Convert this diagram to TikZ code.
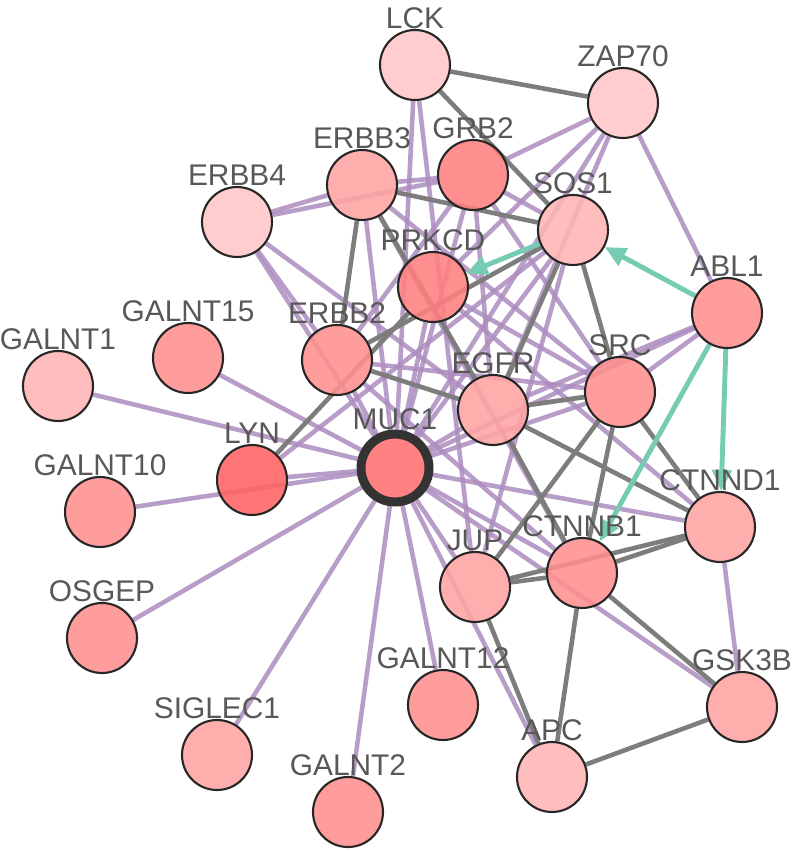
\documentclass[tikz,border=0pt]{standalone}
\usepackage{fontspec}
\setmainfont{Liberation Sans}
\usetikzlibrary{arrows.meta,backgrounds}
\definecolor{pedge}{RGB}{172,140,190}
\definecolor{gedge}{RGB}{125,125,125}
\definecolor{tedge}{RGB}{118,204,178}
\definecolor{lblgray}{RGB}{88,88,88}
\definecolor{shA}{RGB}{255,198,198}
\definecolor{shB}{RGB}{255,180,180}
\definecolor{shC}{RGB}{255,163,163}
\definecolor{shD}{RGB}{255,143,143}
\definecolor{shE}{RGB}{255,128,128}
\definecolor{shF}{RGB}{255,112,112}
\definecolor{shG}{RGB}{255,98,98}

\begin{document}
\begin{tikzpicture}[x=0.02cm,y=-0.02cm,
  gene/.style={circle,draw=black!85,line width=1.2pt,minimum size=1.4cm,inner sep=0pt,
    fill=#1,fill opacity=0.88,label distance=0.1cm},
  glbl/.style={anchor=base,text=lblgray,fill opacity=1,text opacity=1,
    font=\fontsize{17}{17}\selectfont},
  pe/.style={draw=pedge,line width=2.6pt,draw opacity=0.85},
  ge/.style={draw=gedge,line width=2.6pt},
  te/.style={draw=tedge,line width=2.8pt,-{Triangle[length=0.42cm,width=0.38cm]}}
]
\useasboundingbox (0,0) rectangle (792,852);

% genes
\node[gene=shA,label={[glbl]90:LCK}] (LCK) at (415,65) {};
\node[gene=shA,label={[glbl]90:ZAP70}] (ZAP70) at (623,103) {};
\node[gene=shC,label={[glbl]90:ERBB3}] (ERBB3) at (362,185) {};
\node[gene=shE,label={[glbl]90:GRB2}] (GRB2) at (473,175) {};
\node[gene=shA,label={[glbl]90:ERBB4}] (ERBB4) at (237,222) {};
\node[gene=shB,label={[glbl]90:SOS1}] (SOS1) at (573,230) {};
\node[gene=shE,label={[glbl]90:PRKCD}] (PRKCD) at (433,287) {};
\node[gene=shD,label={[glbl]90:GALNT15}] (GALNT15) at (188,358) {};
\node[gene=shB,label={[glbl]90:GALNT1}] (GALNT1) at (58,386) {};
\node[gene=shD,label={[glbl]90:ERBB2}] (ERBB2) at (337,360) {};
\node[gene=shC,label={[glbl]90:EGFR}] (EGFR) at (493,410) {};
\node[gene=shD,label={[glbl]90:SRC}] (SRC) at (620,392) {};
\node[gene=shD,label={[glbl]90:ABL1}] (ABL1) at (727,313) {};
\node[gene=shG,label={[glbl]90:LYN}] (LYN) at (252,480) {};
\node[gene=shD,label={[glbl]90:GALNT10}] (GALNT10) at (100,512) {};
\node[gene=shC,label={[glbl]90:CTNND1}] (CTNND1) at (720,527) {};
\node[gene=shC,label={[glbl]90:JUP}] (JUP) at (475,587) {};
\node[gene=shD,label={[glbl]90:CTNNB1}] (CTNNB1) at (582,573) {};
\node[gene=shD,label={[glbl]90:OSGEP}] (OSGEP) at (102,638) {};
\node[gene=shD,label={[glbl]90:GALNT12}] (GALNT12) at (443,705) {};
\node[gene=shC,label={[glbl]90:GSK3B}] (GSK3B) at (742,707) {};
\node[gene=shC,label={[glbl]90:SIGLEC1}] (SIGLEC1) at (217,755) {};
\node[gene=shB,label={[glbl]90:APC}] (APC) at (552,777) {};
\node[gene=shD,label={[glbl]90:GALNT2}] (GALNT2) at (348,812) {};
% query gene
\node[gene=shF,draw=black!80,line width=0.18cm,minimum size=1.36cm,
  label={[glbl]90:MUC1}] (MUC1) at (395,468) {};

\begin{scope}[on background layer]
% purple links
\draw[pe] (MUC1) -- (LCK);
\draw[pe] (MUC1) -- (ZAP70);
\draw[pe] (MUC1) -- (ERBB3);
\draw[pe] (MUC1) -- (GRB2);
\draw[pe] (MUC1) -- (ERBB4);
\draw[pe] (MUC1) -- (SOS1);
\draw[pe] (MUC1) -- (PRKCD);
\draw[pe] (MUC1) -- (GALNT15);
\draw[pe] (MUC1) -- (ERBB2);
\draw[pe] (MUC1) -- (GALNT1);
\draw[pe] (MUC1) -- (EGFR);
\draw[pe] (MUC1) -- (SRC);
\draw[pe] (MUC1) -- (ABL1);
\draw[pe] (MUC1) -- (LYN);
\draw[pe] (MUC1) -- (GALNT10);
\draw[pe] (MUC1) -- (CTNND1);
\draw[pe] (MUC1) -- (JUP);
\draw[pe] (MUC1) -- (CTNNB1);
\draw[pe] (MUC1) -- (OSGEP);
\draw[pe] (MUC1) -- (GALNT12);
\draw[pe] (MUC1) -- (GSK3B);
\draw[pe] (MUC1) -- (SIGLEC1);
\draw[pe] (MUC1) -- (APC);
\draw[pe] (MUC1) -- (GALNT2);
\draw[pe] (LCK) -- (JUP);
\draw[pe] (ZAP70) -- (GRB2);
\draw[pe] (ZAP70) -- (PRKCD);
\draw[pe] (ZAP70) -- (EGFR);
\draw[pe] (ZAP70) -- (ABL1);
\draw[pe] (ERBB4) -- (ERBB3);
\draw[pe] (ERBB4) -- (GRB2);
\draw[pe] (ERBB4) -- (EGFR);
\draw[pe] (ERBB4) -- (ERBB2);
\draw[pe] (ERBB3) -- (GRB2);
\draw[pe] (ERBB3) -- (SRC);
\draw[pe] (ERBB3) -- (CTNNB1);
\draw[pe] (GRB2) -- (SOS1);
\draw[pe] (GRB2) -- (ERBB2);
\draw[pe] (GRB2) -- (EGFR);
\draw[pe] (GRB2) -- (SRC);
\draw[pe] (SOS1) -- (JUP);
\draw[pe] (SOS1) -- (LYN);
\draw[pe] (PRKCD) -- (SRC);
\draw[pe] (PRKCD) -- (CTNND1);
\draw[pe] (ERBB2) -- (SRC);
\draw[pe] (ERBB2) -- (CTNNB1);
\draw[pe] (EGFR) -- (ABL1);
\draw[pe] (EGFR) -- (SRC);
\draw[pe] (SRC) -- (ABL1);
\draw[pe] (CTNND1) -- (GSK3B);
% gray links
\draw[ge] (LCK) -- (ZAP70);
\draw[ge] (LCK) -- (SOS1);
\draw[ge] (ERBB3) -- (SOS1);
\draw[ge] (ERBB3) -- (ERBB2);
\draw[ge] (ERBB3) -- (EGFR);
\draw[ge] (ERBB2) -- (SOS1);
\draw[ge] (LYN) -- (PRKCD);
\draw[ge] (ERBB2) -- (EGFR);
\draw[ge] (SOS1) -- (EGFR);
\draw[ge] (SOS1) -- (SRC);
\draw[ge] (EGFR) -- (SRC);
\draw[ge] (EGFR) -- (CTNND1);
\draw[ge] (EGFR) -- (CTNNB1);
\draw[ge] (SRC) -- (JUP);
\draw[ge] (SRC) -- (CTNNB1);
\draw[ge] (SRC) -- (CTNND1);
\draw[ge] (CTNNB1) -- (CTNND1);
\draw[ge] (JUP) -- (CTNNB1);
\draw[ge] (JUP) -- (CTNND1);
\draw[ge] (CTNNB1) -- (APC);
\draw[ge] (CTNNB1) -- (GSK3B);
\draw[ge] (GSK3B) -- (APC);
\draw[ge] (JUP) -- (APC);
% teal arrows
\draw[te] (ABL1) -- (SOS1);
\draw[te] (SOS1) -- (PRKCD);
\draw[te] (ABL1) -- (CTNND1);
\draw[te] (ABL1) -- (CTNNB1);
\end{scope}
\end{tikzpicture}
\end{document}
